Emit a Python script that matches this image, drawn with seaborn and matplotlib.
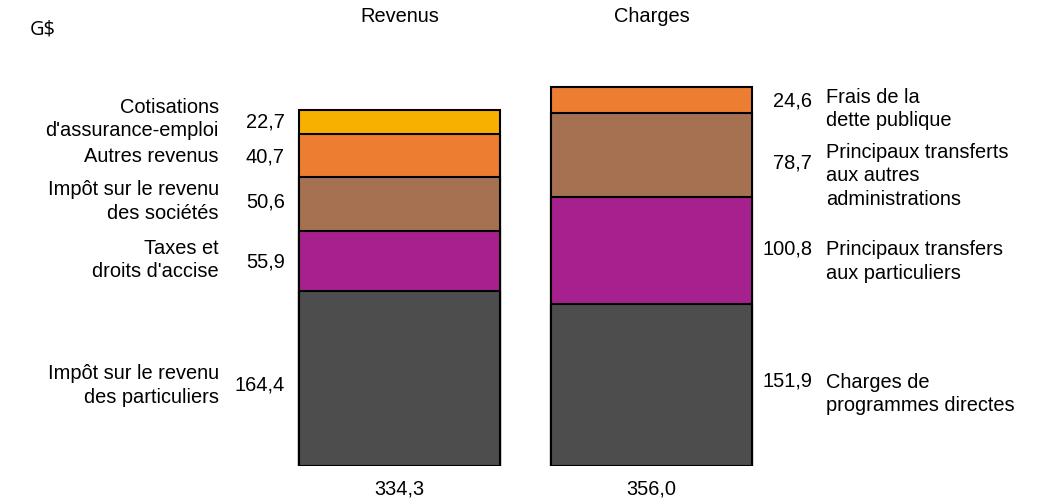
import matplotlib
matplotlib.use("Agg")
import matplotlib.pyplot as plt
import matplotlib.transforms as mtransforms
import seaborn as sns
import pandas as pd
import numpy as np

# ---- data ----
categories = ["Revenus", "Charges"]
totals = ["334,3", "356,0"]

rev_labels = ["Impôt sur le revenu\ndes particuliers", "Taxes et\ndroits d'accise",
              "Impôt sur le revenu\ndes sociétés", "Autres revenus",
              "Cotisations\nd'assurance-emploi"]
rev_values = [164.4, 55.9, 50.6, 40.7, 22.7]
rev_value_text = ["164,4", "55,9", "50,6", "40,7", "22,7"]

chg_labels = ["Charges de\nprogrammes directes", "Principaux transfers\naux particuliers",
              "Principaux transferts\naux autres\nadministrations", "Frais de la\ndette publique"]
chg_values = [151.9, 100.8, 78.7, 24.6]
chg_value_text = ["151,9", "100,8", "78,7", "24,6"]

# ---- style ----
rev_colors = ["#4D4D4D", "#A6218E", "#A57150", "#ED7D31", "#F7B000"]
chg_colors = ["#4D4D4D", "#A6218E", "#A57150", "#ED7D31"]
# pixel offsets from segment centre (positive = down)
rev_val_dy = [7, 1, -2, 1, 0]
rev_lab_dy = [7, -1, -3, 1, -3]
chg_val_dy = [-4, -2, 8, 1]
chg_lab_dy = [9, 11, 21, 9]

sns.set_theme(style="white")
plt.rcParams["font.family"] = ["Liberation Sans", "DejaVu Sans"]
plt.rcParams["text.color"] = "black"
FS = 14.4
LS = 1.3

fig = plt.figure(figsize=(10.45, 5.03), dpi=100)
ax = fig.add_axes([273.5 / 1045, 37 / 503, 504 / 1045, 426 / 503])

# stacked bars via layered seaborn barplots (cumulative heights, tallest first)
rows = []
for cat, vals, cols in [("Revenus", rev_values, rev_colors), ("Charges", chg_values, chg_colors)]:
    cum = np.cumsum(vals)
    for i in range(len(vals)):
        rows.append(dict(cat=cat, top=cum[i], color=cols[i]))
df = pd.DataFrame(rows).sort_values("top", ascending=False)
for _, r in df.iterrows():
    sns.barplot(x=[r["cat"]], y=[r["top"]], order=categories, color=r["color"],
                width=0.8, edgecolor="black", linewidth=1.5, ax=ax, saturation=1)

ax.set_xlim(-0.5, 1.5)
ax.set_ylim(0, 400)
ax.axis("off")

# Revenus labels
cum = np.cumsum(rev_values)
for i, v in enumerate(rev_values):
    yc = cum[i] - v / 2
    ax.annotate(rev_value_text[i], xy=(-0.4, yc), xytext=(-14, -rev_val_dy[i]),
                textcoords="offset pixels", ha="right", va="center", fontsize=FS, color="black")
    ax.annotate(rev_labels[i], xy=(-0.4, yc), xytext=(-80, -rev_lab_dy[i]),
                textcoords="offset pixels", ha="right", va="center", fontsize=FS,
                multialignment="right", color="black", linespacing=LS)

cum = np.cumsum(chg_values)
for i, v in enumerate(chg_values):
    yc = cum[i] - v / 2
    ax.annotate(chg_value_text[i], xy=(1.4, yc), xytext=(60, -chg_val_dy[i]),
                textcoords="offset pixels", ha="right", va="center", fontsize=FS, color="black")
    ax.annotate(chg_labels[i], xy=(1.4, yc), xytext=(74, -chg_lab_dy[i]),
                textcoords="offset pixels", ha="left", va="center", fontsize=FS,
                multialignment="left", color="black", linespacing=LS)

trans = mtransforms.blended_transform_factory(ax.transData, fig.transFigure)
for i, cat in enumerate(categories):
    ax.text(i, 1 - 17 / 503, cat, transform=trans, ha="center", va="center", fontsize=FS, color="black")
    ax.text(i, 1 - 489 / 503, totals[i], transform=trans, ha="center", va="center", fontsize=FS, color="black")

fig.text(30 / 1045, 1 - 30 / 503, "G$", ha="left", va="center", fontsize=FS,
         family=["Open Sans", "DejaVu Sans"], color="black")

fig.savefig("out.png", dpi=100)
